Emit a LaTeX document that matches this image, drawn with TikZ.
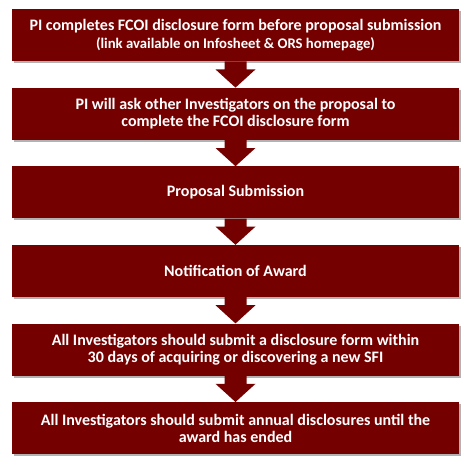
\documentclass[tikz,border=0pt]{standalone}
\usepackage{fontspec}
\setmainfont{Carlito}
\usetikzlibrary{positioning,shadows}
\definecolor{fcoired}{RGB}{117,0,0}
\tikzset{
  stepbox/.style={fill=fcoired,text=white,align=center,font=\fontsize{16}{17.5}\selectfont\bfseries,
    minimum width=447pt,minimum height=52pt,inner sep=0pt,
    drop shadow={shadow xshift=1.5pt,shadow yshift=-2pt,opacity=0.3,fill=black}},
  flow/.style={fill=fcoired}
}

\begin{document}
\begin{tikzpicture}[x=1pt,y=-1pt,node distance=26.2pt]
  \useasboundingbox (0,0) rectangle (472,464);
  \node[stepbox,anchor=north] (form) at (235.5,9) {PI completes FCOI disclosure form before proposal submission\\{\fontsize{14.7}{17.5}\selectfont (link available on Infosheet \& ORS homepage)}};
  \node[stepbox,below=of form] (ask) {PI will ask other Investigators on the proposal to\\complete the FCOI disclosure form};
  \node[stepbox,below=of ask] (submit) {Proposal Submission};
  \node[stepbox,below=of submit] (award) {Notification of Award};
  \node[stepbox,below=of award] (sfi) {All Investigators should submit a disclosure form within\\30 days of acquiring or discovering a new SFI};
  \node[stepbox,below=of sfi] (annual) {All Investigators should submit annual disclosures until the\\award has ended};
  % block arrows between the steps
  \foreach \a/\b in {form/ask,ask/submit,submit/award,award/sfi,sfi/annual}
    \fill[flow] ([xshift=-11pt]\a.south) -- ([xshift=-11pt,yshift=-8pt]\a.south)
      -- ([xshift=-20pt,yshift=-8pt]\a.south) -- (\b.north)
      -- ([xshift=20pt,yshift=-8pt]\a.south) -- ([xshift=11pt,yshift=-8pt]\a.south)
      -- ([xshift=11pt]\a.south) -- cycle;
\end{tikzpicture}
\end{document}
